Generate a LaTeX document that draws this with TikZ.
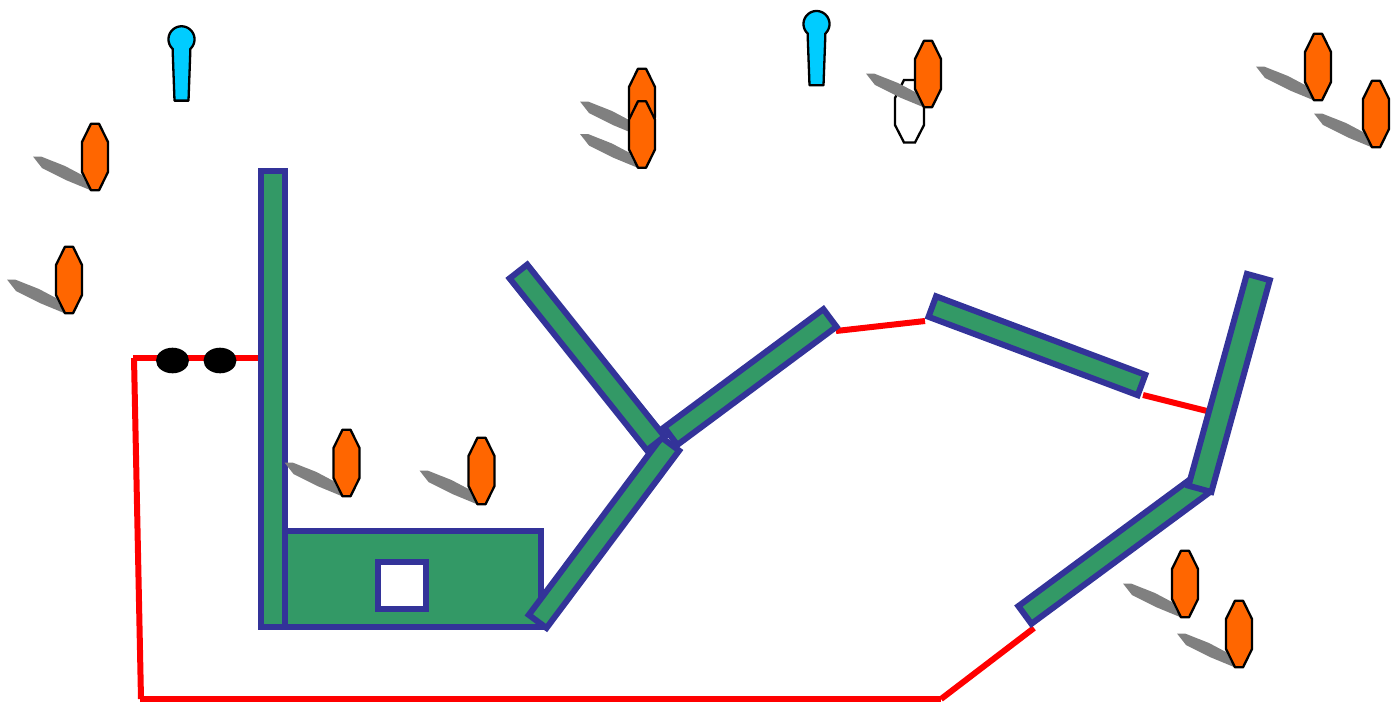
\documentclass[tikz,border=0pt]{standalone}
\definecolor{barfill}{HTML}{339966}
\definecolor{barline}{HTML}{333399}
\definecolor{pinblue}{HTML}{00CCFF}
\definecolor{orangefill}{HTML}{FF6600}
\definecolor{redline}{HTML}{FF0000}
\definecolor{shadowgray}{HTML}{808080}
\tikzset{
  bar/.style={fill=barfill,draw=barline,line width=6pt,line join=miter},
  wire/.style={draw=redline,line width=6pt,line cap=butt},
  outlined/.style={draw=black,line width=2.3pt,line join=round},
  pics/person/.style={code={
    \fill[shadowgray] (-62,-0.5) -- (-54,-0.5) -- (-30,9) -- (-13,18) -- (-5,33) -- (-28,23.5) -- (-53,11) -- cycle;
    \draw[outlined,fill=orangefill] (-4,-33.3) -- (4,-33.3) -- (13,-15) -- (13,15) -- (4,33.3) -- (-4,33.3) -- (-13,15) -- (-13,-15) -- cycle;
  }},
  pics/pin/.style={code={
    \draw[outlined,fill=pinblue] plot[domain=132:408,samples=60] ({13*cos(\x)},{13*sin(\x)}) -- (8.8,12.3) -- (7,61.3) -- (-7,61.3) -- (-8.8,12.3) -- cycle;
  }}
}
\begin{document}
\begin{tikzpicture}[x=1pt,y=-1pt]
\useasboundingbox (0,0) rectangle (1399,702);
% red wires
\draw[wire] (133,358) -- (261,358);
\draw[wire] (134,358) -- (141,699);
\draw[wire] (140,699) -- (941,699);
\draw[wire] (941,699) -- (1034,628);
\draw[wire] (836,331) -- (925,321);
\draw[wire] (1143,395) -- (1207,411);
% black ellipses
\fill[black] (172.5,360.5) ellipse [x radius=16.5,y radius=12.8];
\fill[black] (220,360.5) ellipse [x radius=16.5,y radius=12.8];
% walls
\draw[bar] (277,531) rectangle (541,627);
\draw[bar,fill=white] (378,562) rectangle (426,609);
\draw[bar] (261.3,171) rectangle (284.7,627);
\draw[bar] (528.8,614.9) -- (546.5,628) -- (679.1,450.6) -- (661.5,437.4) -- cycle;
\draw[bar] (664.2,427.3) -- (823.4,309.2) -- (836.5,326.7) -- (677.3,444.9) -- cycle;
\draw[bar] (527.2,264.6) -- (509.6,278.4) -- (646.9,450.3) -- (664.5,436.5) -- cycle;
\draw[bar] (936.1,296.3) -- (1145.3,374.8) -- (1137.7,395.2) -- (928.5,316.8) -- cycle;
\draw[bar] (1018.4,606.1) -- (1196.1,474.9) -- (1209.1,492.7) -- (1031.4,623.8) -- cycle;
\draw[bar] (1246.9,273.9) -- (1269.8,280.2) -- (1211.4,492) -- (1188.5,485.7) -- cycle;
% white octagon
\draw[draw=black,line width=2.3pt,fill=white] (904,80) -- (915,80) -- (924,98) -- (924,125) -- (915,142.5) -- (904,142.5) -- (895,125) -- (895,98) -- cycle;
% people
\pic at (95,157) {person};
\pic at (69,280) {person};
\pic at (346.5,463) {person};
\pic at (481.5,471) {person};
\pic at (642,102) {person};
\pic at (642,134.5) {person};
\pic at (928,74) {person};
\pic at (1318,67) {person};
\pic at (1376,114) {person};
\pic at (1185,584) {person};
\pic at (1239,634) {person};
% pins
\pic at (181.5,39.3) {pin};
\pic at (816.5,24) {pin};
\end{tikzpicture}
\end{document}
